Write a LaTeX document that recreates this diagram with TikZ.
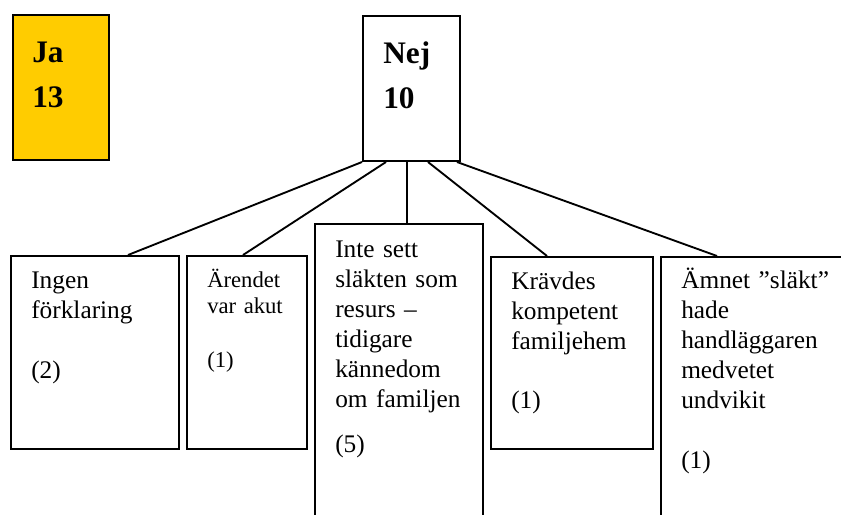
\documentclass[tikz,border=0pt]{standalone}
\usepackage{fontspec}
\setmainfont{Liberation Serif}
\usetikzlibrary{calc}
\definecolor{jagul}{HTML}{FFCC00}
\begin{document}
\begin{tikzpicture}[x=0.75pt,y=-0.75pt,
  box/.style={draw=black, line width=1.5pt, inner sep=0pt, anchor=north west},
  conn/.style={draw=black, line width=1.4pt},
  txt/.style={anchor=base west, inner sep=0pt, align=left, text width=140pt,
    font=\fontsize{19}{22.5}\selectfont},
  smalltxt/.style={anchor=base west, inner sep=0pt, align=left, text width=90pt,
    font=\fontsize{17}{19.5}\selectfont},
  bigtxt/.style={anchor=base west, inner sep=0pt, align=left, text width=60pt,
    font=\fontsize{23.5}{33.75}\selectfont\bfseries}]
\useasboundingbox (0,0) rectangle (841,514);
\clip (0,0) rectangle (841,514);
% boxes
\node[box, fill=jagul, minimum width=72pt, minimum height=108.75pt] (ja) at (12,14) {};
\node[box, fill=white, minimum width=72.75pt, minimum height=108.75pt] (nej) at (362,15) {};
\node[box, minimum width=126pt, minimum height=144.75pt] (b1) at (10,255) {};
\node[box, minimum width=90pt, minimum height=144.75pt] (b2) at (186,255) {};
\node[box, minimum width=126pt, minimum height=230.25pt] (b3) at (314,223) {};
\node[box, minimum width=121.5pt, minimum height=144pt] (b4) at (490,256) {};
\node[box, minimum width=150pt, minimum height=205.5pt] (b5) at (660,256) {};
% connectors
\draw[conn] (nej.south west) -- ($(b1.north west)+(118,0)$);
\draw[conn] ($(nej.south west)+(24,0)$) -- ($(b2.north west)+(57,0)$);
\draw[conn] ($(nej.south west)+(45,0)$) -- ($(b3.north west)+(93,0)$);
\draw[conn] ($(nej.south west)+(66,0)$) -- ($(b4.north west)+(57,0)$);
\draw[conn] ($(nej.south west)+(95,0)$) -- ($(b5.north west)+(57,0)$);
% texts
\node[bigtxt] (tja) at (32,62) {Ja\\13};
\node[bigtxt] (tnej) at (383,63) {Nej\\10};
\node[txt] (t1) at (31,288) {Ingen\\förklaring\\[22.5pt](2)};
\node[smalltxt] (t2) at (207,287) {Ärendet\\var akut\\[21.5pt](1)};
\node[txt] (t3) at (335,257) {Inte sett\\släkten som\\resurs –\\tidigare\\kännedom\\om familjen\\[11.25pt](5)};
\node[txt] (t4) at (511,289) {Krävdes\\kompetent\\familjehem\\[22pt](1)};
\node[txt] (t5) at (681,288) {Ämnet ”släkt”\\hade\\handläggaren\\medvetet\\undvikit\\[22.5pt](1)};
\end{tikzpicture}
\end{document}
